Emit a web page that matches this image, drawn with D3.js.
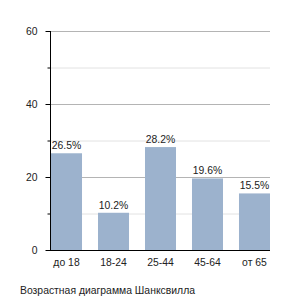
<!DOCTYPE html>
<html>
<head>
<meta charset="utf-8">
<script src="https://cdn.jsdelivr.net/npm/d3@7"></script>
<style>
  body { margin: 0; background: #fff; }
  text { font-family: "Liberation Sans", Arial, sans-serif; }
</style>
</head>
<body>
<div id="chart"></div>
<script>
var categories = ["до 18", "18-24", "25-44", "45-64", "от 65"];
var values = [26.5, 10.2, 28.2, 19.6, 15.5];
var majorTicks = [0, 20, 40, 60];
var minorTicks = [10, 30, 50];
var title = "Возрастная диаграмма Шанксвилла";

var svgWidth = 300;
var svgHeight = 300;
var fontSize = "10.4px";

var svg = d3.select("#chart")
  .append("svg")
  .attr("width", svgWidth)
  .attr("height", svgHeight);

// plot area
var plot = { left: 51, right: 270, top: 31, bottom: 250 };

var x = d3.scaleBand()
  .domain(categories)
  .range([plot.left, plot.right])
  .paddingInner(0.34)
  .paddingOuter(0);

var y = d3.scaleLinear()
  .domain([0, 60])
  .range([plot.bottom, plot.top]);

// minor gridlines
svg.append("g")
  .selectAll("line")
  .data(minorTicks)
  .enter()
  .append("line")
  .attr("x1", plot.left - 1)
  .attr("x2", plot.right)
  .attr("y1", d => y(d) + 0.5)
  .attr("y2", d => y(d) + 0.5)
  .attr("stroke", "#e2e2e2");

// major gridlines
svg.append("g")
  .selectAll("line")
  .data(majorTicks.filter(d => d > 0))
  .enter()
  .append("line")
  .attr("x1", plot.left - 1)
  .attr("x2", plot.right)
  .attr("y1", d => y(d) + 0.5)
  .attr("y2", d => y(d) + 0.5)
  .attr("stroke", "#b4b4b4");

// bars
svg.append("g")
  .selectAll("rect")
  .data(values)
  .enter()
  .append("rect")
  .attr("x", (d, i) => x(categories[i]))
  .attr("y", d => y(d))
  .attr("width", x.bandwidth())
  .attr("height", d => y(0) - y(d))
  .attr("fill", "#9cb2cd");

// value labels
svg.append("g")
  .selectAll("text")
  .data(values)
  .enter()
  .append("text")
  .attr("x", (d, i) => x(categories[i]) + x.bandwidth() / 2)
  .attr("y", d => y(d) - 4)
  .attr("text-anchor", "middle")
  .attr("font-size", fontSize)
  .attr("fill", "#222")
  .text(d => d.toFixed(1) + "%");

// y axis
var yAxis = svg.append("g")
  .attr("transform", `translate(${plot.left - 0.5}, 0)`)
  .call(d3.axisLeft(y).tickValues(majorTicks).tickSize(5).tickPadding(8));
yAxis.select(".domain").attr("stroke", "#000").attr("d", `M0,${plot.top}V${plot.bottom + 0.5}`);
yAxis.selectAll("text").attr("font-size", fontSize).attr("fill", "#222")
  .style("font-family", "Liberation Sans, Arial, sans-serif");

svg.append("g")
  .attr("transform", `translate(${plot.left - 0.5}, 0)`)
  .selectAll("line")
  .data(minorTicks)
  .enter()
  .append("line")
  .attr("x1", -3)
  .attr("x2", 0)
  .attr("y1", d => y(d) + 0.5)
  .attr("y2", d => y(d) + 0.5)
  .attr("stroke", "#000");

// x axis
var xAxis = svg.append("g")
  .attr("transform", `translate(0, ${plot.bottom + 0.5})`)
  .call(d3.axisBottom(x).tickSize(0).tickPadding(8));
xAxis.select(".domain").attr("stroke", "#000").attr("d", `M${plot.left - 1},0H${plot.right}`);
xAxis.selectAll("text").attr("font-size", fontSize).attr("fill", "#222")
  .style("font-family", "Liberation Sans, Arial, sans-serif");

// title
svg.append("text")
  .attr("x", 20)
  .attr("y", 294)
  .attr("font-size", fontSize)
  .attr("fill", "#222")
  .text(title);
</script>
</body>
</html>
